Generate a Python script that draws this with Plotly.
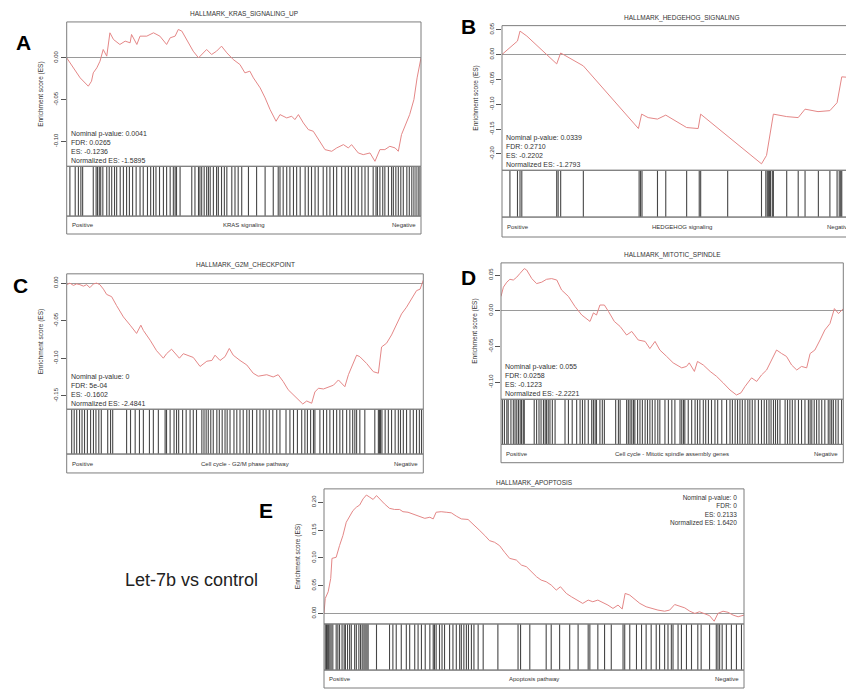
import plotly.graph_objects as go

# ---------------- DATA ----------------
# Panel A : HALLMARK_KRAS_SIGNALING_UP  (x = position in ranked list, %)
a_rank = [0,1.9,3.8,6.1,7.0,7.5,8.5,9.4,10.3,11.3,12.2,13.2,15.0,16.5,17.9,18.3,19.8,20.7,22.6,24.5,
          26.3,28.2,29.2,30.6,31.5,32.5,33.9,35.7,37.2,38.1,39.5,40.9,42.3,43.7,45.2,47.0,48.9,50.3,51.7,52.7,
          54.6,56.0,57.4,59.1,60.2,62.1,63.5,64.4,65.4,66.8,68.2,69.6,71.0,72.9,74.8,76.2,78.1,79.5,80.4,82.3,
          83.7,85.6,87.0,88.4,89.8,91.2,92.7,93.6,94.5,95.9,96.8,98.0,98.9,100]
a_es = [0,-0.012,-0.024,-0.034,-0.028,-0.018,-0.012,-0.004,0.010,0.002,0.030,0.022,0.016,0.020,0.018,0.028,0.016,0.026,0.026,0.030,
        0.026,0.016,0.024,0.026,0.034,0.032,0.022,0.008,0.0,0.004,0.010,0.004,0.008,0.014,0.006,-0.002,-0.008,-0.018,-0.016,-0.024,
        -0.036,-0.048,-0.062,-0.076,-0.068,-0.072,-0.070,-0.074,-0.068,-0.078,-0.086,-0.088,-0.098,-0.110,-0.112,-0.108,-0.104,-0.108,-0.104,-0.114,
        -0.116,-0.114,-0.124,-0.110,-0.110,-0.106,-0.108,-0.112,-0.092,-0.078,-0.068,-0.050,-0.024,0.0]
a_hits = [0.9,2.4,3.3,4.0,4.5,7.5,8.3,8.7,9.2,9.6,10.2,11.3,12.0,12.7,13.5,14.1,15.1,16.0,16.9,17.7,18.6,19.6,20.7,21.6,
          22.8,23.7,24.5,25.2,26.2,27.3,28.2,29.2,30.1,30.6,31.0,32.0,35.3,36.2,37.2,37.6,38.1,38.8,39.5,40.0,40.5,41.4,
          42.3,42.8,43.7,44.5,45.2,46.6,47.5,48.4,49.4,51.3,53.6,56.0,58.3,59.7,60.2,61.1,62.1,63.0,64.0,64.9,65.9,67.3,
          68.2,69.1,70.1,71.0,72.4,73.4,74.3,75.3,76.2,77.6,78.6,79.5,80.4,81.4,82.3,83.3,84.2,85.1,86.5,87.3,87.7,88.4,
          89.2,89.8,90.8,91.7,92.2,92.9,93.6,94.3,95.0,96.0,96.7,97.4,98.0,98.6,99.2,99.7]
a_ticks = [0.0, -0.05, -0.10]
a_stats = ["Nominal p-value: 0.0041", "FDR: 0.0265", "ES: -0.1236", "Normalized ES: -1.5895"]

# Panel B : HALLMARK_HEDGEHOG_SIGNALING
b_rank = [0,2.2,4.3,5.0,6.9,15.2,16.3,22.6,37.9,38.8,40.6,43.2,45.5,51.3,54.5,55.2,72.1,73.5,74.4,75.4,
          79.1,82.3,84.2,87.8,91.1,93.1,94.4,96.9,98.1]
b_es = [0,0.013,0.027,0.047,0.037,-0.019,0.003,-0.023,-0.149,-0.120,-0.127,-0.130,-0.122,-0.147,-0.149,-0.120,-0.220,-0.203,-0.163,-0.120,
        -0.125,-0.127,-0.110,-0.115,-0.113,-0.097,-0.045,-0.047,-0.047]
b_hits = [2.2,4.3,5.0,5.5,15.2,15.6,16.3,22.6,38.1,38.5,38.9,43.2,45.5,51.3,54.8,55.2,62.7,72.1,73.3,73.7,74.0,
          74.3,74.6,75.1,75.4,79.1,82.3,84.2,87.9,91.1,93.1,93.7,94.1,94.4,96.9]
b_ticks = [0.05, 0.0, -0.05, -0.10, -0.15, -0.20]
b_stats = ["Nominal p-value: 0.0339", "FDR: 0.2710", "ES: -0.2202", "Normalized ES: -1.2793"]

# Panel C : HALLMARK_G2M_CHECKPOINT
c_rank = [0,0.9,1.9,2.8,3.7,4.7,5.6,6.5,7.5,8.4,9.3,10.3,11.2,12.6,14.0,15.9,17.8,19.6,20.8,21.5,
          23.4,25.2,27.1,28.0,29.4,30.4,31.6,32.7,34.1,35.5,37.4,39.3,40.7,41.6,43.0,44.4,45.6,46.7,48.6,50.5,
          52.3,53.7,56.1,57.9,59.3,60.7,62.1,63.6,64.9,66.2,67.3,68.7,69.6,70.6,72.0,73.4,74.8,76.2,77.1,78.0,
          79.0,80.4,81.3,82.2,84.1,86.0,87.4,88.3,89.7,91.1,92.5,93.9,95.3,96.7,98.1,99.1,100]
c_es = [-0.002,0,-0.003,-0.001,-0.002,-0.004,-0.002,-0.006,-0.001,0,-0.002,-0.008,-0.015,-0.018,-0.030,-0.045,-0.056,-0.067,-0.056,-0.063,
        -0.076,-0.090,-0.100,-0.094,-0.088,-0.093,-0.100,-0.094,-0.096,-0.099,-0.111,-0.104,-0.103,-0.096,-0.103,-0.098,-0.087,-0.096,-0.103,-0.109,
        -0.120,-0.124,-0.122,-0.125,-0.122,-0.131,-0.142,-0.149,-0.156,-0.161,-0.157,-0.160,-0.145,-0.140,-0.141,-0.139,-0.136,-0.129,-0.133,-0.138,
        -0.122,-0.107,-0.096,-0.098,-0.107,-0.118,-0.120,-0.085,-0.080,-0.069,-0.054,-0.041,-0.032,-0.021,-0.010,-0.008,0.004]
c_hits = [1.4,2.1,2.8,3.6,4.3,5.0,5.8,6.7,7.5,8.2,9.0,9.7,11.5,12.3,12.9,16.8,17.9,19.2,20.4,21.5,23.2,24.3,25.7,
          27.6,28.0,29.0,30.1,30.8,31.4,32.5,33.5,34.6,35.5,36.4,37.9,38.5,39.1,39.7,40.4,41.1,42.1,42.8,43.6,44.4,
          45.0,45.8,46.9,47.7,48.6,49.5,50.5,51.2,52.1,53.3,54.2,55.1,55.9,56.8,57.8,58.9,59.8,61.5,62.6,63.6,64.7,
          65.9,66.8,67.5,68.4,69.2,69.6,71.0,72.0,72.9,73.8,74.8,75.7,76.6,77.4,78.5,79.4,80.2,80.8,81.3,82.2,83.6,
          86.4,87.4,87.7,88.0,88.4,89.3,90.2,91.1,92.1,93.0,93.6,94.4,95.3,96.3,97.2,98.1,98.9,99.5]
c_ticks = [0.0, -0.05, -0.10, -0.15]
c_stats = ["Nominal p-value: 0", "FDR: 5e-04", "ES: -0.1602", "Normalized ES: -2.4841"]

# Panel D : HALLMARK_MITOTIC_SPINDLE
d_rank = [0,0.7,1.7,2.6,3.6,4.6,5.5,6.8,7.5,9.0,10.4,11.9,13.3,14.8,16.3,17.7,19.7,21.6,23.6,25.0,
          26.0,27.0,27.9,28.9,30.2,31.4,33.1,34.8,36.7,38.2,40.1,42.1,43.5,45.0,46.4,48.4,50.3,52.8,54.2,55.0,
          56.5,57.4,59.1,61.1,63.0,64.9,66.9,68.8,70.1,71.3,73.2,74.7,76.1,77.6,79.1,80.5,82.0,83.4,84.9,86.4,
          87.8,89.3,90.3,91.7,93.2,94.6,96.1,97.4,98.6,100]
d_es = [0.020,0.033,0.040,0.044,0.043,0.047,0.052,0.059,0.057,0.045,0.038,0.040,0.044,0.045,0.043,0.029,0.020,0.006,-0.006,-0.011,
        -0.015,-0.003,-0.006,0.008,0.008,-0.001,-0.015,-0.022,-0.034,-0.029,-0.041,-0.043,-0.053,-0.043,-0.055,-0.064,-0.073,-0.080,-0.078,-0.073,
        -0.085,-0.071,-0.076,-0.085,-0.092,-0.101,-0.111,-0.118,-0.115,-0.106,-0.094,-0.099,-0.090,-0.083,-0.069,-0.055,-0.060,-0.064,-0.076,-0.083,
        -0.078,-0.080,-0.060,-0.055,-0.041,-0.027,-0.018,0.003,-0.004,0.003]
d_hits = [0.4,1.0,1.7,2.1,2.9,3.6,4.1,4.6,5.1,5.6,6.0,6.5,6.8,9.7,10.4,11.1,11.7,12.4,12.9,13.3,13.8,14.3,15.0,15.8,
          18.7,19.7,20.8,22.1,23.1,23.8,24.5,25.5,26.5,27.0,27.5,27.9,28.9,29.6,30.2,33.5,34.3,34.8,36.7,37.2,37.7,
          38.2,38.7,39.1,39.9,40.6,41.3,42.1,42.8,43.5,44.2,45.0,45.8,46.4,47.9,48.9,49.9,50.8,52.3,52.8,53.3,53.7,
          54.7,55.7,56.7,57.4,58.1,59.1,59.8,60.6,61.5,62.5,63.3,64.5,65.9,66.9,67.6,68.4,69.1,69.8,70.5,71.3,72.1,
          72.7,73.4,74.2,75.2,76.1,76.9,77.6,78.3,78.9,79.6,80.2,80.8,81.5,83.0,83.7,84.4,85.1,85.9,86.9,87.8,88.8,
          89.8,90.3,90.8,91.5,92.2,92.9,93.7,94.6,95.6,96.1,96.6,97.1,97.8,98.5,99.5]
d_ticks = [0.05, 0.0, -0.05, -0.10]
d_stats = ["Nominal p-value: 0.055", "FDR: 0.0258", "ES: -0.1223", "Normalized ES: -2.2221"]

# Panel E : HALLMARK_APOPTOSIS
e_rank = [0,0.3,1.0,1.6,1.9,2.9,3.7,4.5,5.3,6.1,6.9,7.7,8.5,9.3,10.1,10.9,11.7,12.5,13.3,14.4,
          15.6,16.8,18.0,18.8,20.0,21.2,22.4,24.0,25.2,26.0,26.7,27.9,29.1,30.3,31.5,32.7,34.3,35.5,37.1,38.3,
          39.4,40.6,41.8,43.0,44.2,45.8,47.0,48.2,49.4,50.6,51.7,52.9,54.1,55.3,56.3,57.7,58.9,60.4,61.6,62.9,
          64.0,65.2,66.4,67.6,68.8,70.0,71.0,71.7,72.8,73.9,75.2,76.7,77.9,79.5,81.1,82.3,83.5,84.7,85.9,87.1,
          88.3,89.4,90.6,91.8,92.9,93.8,95.0,96.2,97.4,98.6,100]
e_es = [0.0,0.027,0.039,0.063,0.099,0.101,0.122,0.140,0.164,0.176,0.185,0.191,0.195,0.206,0.213,0.209,0.205,0.212,0.205,0.197,
        0.189,0.187,0.187,0.183,0.182,0.179,0.176,0.171,0.173,0.170,0.182,0.183,0.182,0.181,0.175,0.170,0.169,0.161,0.149,0.140,
        0.131,0.128,0.122,0.110,0.099,0.096,0.087,0.084,0.075,0.066,0.060,0.057,0.051,0.042,0.048,0.036,0.030,0.024,0.018,0.024,
        0.021,0.024,0.020,0.015,0.009,0.015,0.008,0.036,0.033,0.026,0.018,0.012,0.009,0.006,0.004,0.006,0.016,0.013,0.010,0.004,
        0.0,0.003,0.0,-0.004,-0.014,0.0,0.004,0.002,-0.003,-0.006,-0.003]
e_hits = [0.3,0.6,0.8,1.1,1.4,1.7,2.1,2.9,3.3,3.7,4.3,4.8,5.1,5.6,6.1,6.5,7.3,7.7,8.3,8.7,9.1,9.5,9.8,10.2,10.5,
          12.5,15.6,16.4,17.2,18.4,19.6,20.4,21.6,22.4,23.2,24.1,25.2,26.0,26.3,26.7,27.5,28.1,28.7,29.9,30.7,31.5,
          32.3,32.7,33.3,33.9,34.4,35.1,35.7,36.7,37.9,41.4,46.2,46.8,49.0,52.9,54.1,56.1,58.5,60.5,62.9,63.3,65.2,
          66.8,68.4,71.2,71.6,72.8,74.4,75.6,76.7,77.9,79.1,79.9,81.1,81.9,82.7,83.1,84.3,85.1,86.3,87.5,89.0,89.8,
          91.8,93.4,93.8,94.2,94.8,95.8,97.0,98.2,99.4]
e_ticks = [0.20, 0.15, 0.10, 0.05, 0.0]
e_stats = ["Nominal p-value: 0", "FDR: 0", "ES: 0.2133", "Normalized ES: 1.6420"]

titles = ["HALLMARK_KRAS_SIGNALING_UP", "HALLMARK_HEDGEHOG_SIGNALING", "HALLMARK_G2M_CHECKPOINT",
          "HALLMARK_MITOTIC_SPINDLE", "HALLMARK_APOPTOSIS"]
pathways = ["KRAS signaling", "HEDGEHOG signaling", "Cell cycle - G2/M phase pathway",
            "Cell cycle - Mitotic spindle assembly genes", "Apoptosis pathway"]
letters = ["A", "B", "C", "D", "E"]

# ---------------- LAYOUT (window-pixel geometry of each panel) ----------------
OFF = 8                     # default body margin of the html page
W, H = 854 - OFF, 690 - OFF
def px(x): return (x - OFF) / W
def py(y): return 1 - (y - OFF) / H

geo = [
    dict(l=66.7, r=421.0, top=19.0, esb=164.0, barb=214.0, boxb=232.0, ylim=[-0.130, 0.043], xr=[0, 100],
         ty=11, let=(23, 40), stats_pos="bl", neg_r=None),
    dict(l=502.0, r=862.0, top=22.7, esb=168.0, barb=215.0, boxb=235.0, ylim=[-0.233, 0.058], xr=[0, 97.8],
         ty=15, let=(469, 24), stats_pos="bl", neg_r=853),
    dict(l=66.7, r=423.3, top=272.0, esb=408.0, barb=453.0, boxb=472.0, ylim=[-0.168, 0.0124], xr=[0, 100],
         ty=263, let=(20, 284), stats_pos="bl", neg_r=None),
    dict(l=501.0, r=843.3, top=261.0, esb=398.0, barb=443.3, boxb=461.7, ylim=[-0.124, 0.067], xr=[0, 100],
         ty=253, let=(469, 276), stats_pos="bl", neg_r=None),
    dict(l=324.0, r=744.0, top=488.0, esb=623.7, barb=670.0, boxb=688.0, ylim=[-0.019, 0.224], xr=[0, 100],
         ty=482, let=(266, 510), stats_pos="tr", neg_r=None),
]
ranks = [a_rank, b_rank, c_rank, d_rank, e_rank]
ess = [a_es, b_es, c_es, d_es, e_es]
hits = [a_hits, b_hits, c_hits, d_hits, e_hits]
ticks = [a_ticks, b_ticks, c_ticks, d_ticks, e_ticks]
stats = [a_stats, b_stats, c_stats, d_stats, e_stats]

FONT = "Arial, Liberation Sans, sans-serif"
ES_COLOR = "rgb(228,135,135)"
BAR_COLOR = "rgba(25,25,25,0.8)"
BOX_COLOR = "rgb(125,125,125)"
TXT = "#333"

fig = go.Figure()
layout = {}
shapes = []
annotations = []

for i in range(5):
    g = geo[i]
    n_es, n_bar = 2 * i + 1, 2 * i + 2
    xe = "x" if n_es == 1 else f"x{n_es}"
    ye = "y" if n_es == 1 else f"y{n_es}"
    xb, yb = f"x{n_bar}", f"y{n_bar}"
    xdom = [px(g["l"]), min(px(g["r"]), 1.0)]

    fig.add_trace(go.Scatter(x=ranks[i], y=ess[i], mode="lines",
                             line=dict(color=ES_COLOR, width=1), xaxis=xe, yaxis=ye,
                             hoverinfo="skip", showlegend=False))
    bx, by = [], []
    for h in hits[i]:
        bx += [h, h, None]
        by += [0, 1, None]
    fig.add_trace(go.Scatter(x=bx, y=by, mode="lines", line=dict(color=BAR_COLOR, width=1.1),
                             xaxis=xb, yaxis=yb, hoverinfo="skip", showlegend=False))

    layout["xaxis" if n_es == 1 else f"xaxis{n_es}"] = dict(
        domain=xdom, range=g["xr"], anchor=ye, visible=False, fixedrange=True)
    layout["yaxis" if n_es == 1 else f"yaxis{n_es}"] = dict(
        domain=[py(g["esb"]), py(g["top"])], range=g["ylim"], anchor=xe,
        tickmode="array", tickvals=ticks[i], ticktext=[f"{t:.2f}" for t in ticks[i]],
        tickangle=-90, ticks="outside", ticklen=5, tickcolor="#555", tickwidth=1,
        tickfont=dict(size=6, color=TXT, family=FONT),
        showline=False, showgrid=False, zeroline=True, zerolinecolor="#9a9a9a", zerolinewidth=1,
        title=dict(text="Enrichment score (ES)", font=dict(size=6.5, color=TXT, family=FONT), standoff=9),
        fixedrange=True)
    layout[f"xaxis{n_bar}"] = dict(domain=xdom, range=g["xr"], anchor=yb, visible=False, fixedrange=True)
    layout[f"yaxis{n_bar}"] = dict(domain=[py(g["barb"]), py(g["esb"])], range=[0, 1], anchor=xb,
                                   visible=False, fixedrange=True)

    # frames
    for (y0, y1) in [(g["top"], g["esb"]), (g["esb"], g["barb"]), (g["barb"], g["boxb"])]:
        shapes.append(dict(type="rect", xref="paper", yref="paper",
                           x0=px(g["l"]), x1=px(g["r"]), y0=py(y1), y1=py(y0),
                           line=dict(color=BOX_COLOR, width=1), fillcolor="rgba(0,0,0,0)", layer="above"))

    # title
    annotations.append(dict(text=titles[i], x=px((g["l"] + g["r"]) / 2), y=py(g["ty"]), xref="paper", yref="paper",
                            showarrow=False, xanchor="center", yanchor="middle",
                            font=dict(size=6.5, color=TXT, family=FONT)))
    # stats
    if g["stats_pos"] == "bl":
        annotations.append(dict(text="<br>".join(stats[i]), x=px(g["l"] + 2), y=py(g["esb"] - 0.5),
                                xref="paper", yref="paper", showarrow=False, xanchor="left", yanchor="bottom",
                                align="left", font=dict(size=7, color=TXT, family=FONT)))
    else:
        annotations.append(dict(text="<br>".join(stats[i]), x=px(g["r"] - 5), y=py(g["top"] + 3),
                                xref="paper", yref="paper", showarrow=False, xanchor="right", yanchor="top",
                                align="right", font=dict(size=6.5, color=TXT, family=FONT)))
    # label strip
    ym = py((g["barb"] + g["boxb"]) / 2)
    annotations.append(dict(text="Positive", x=px(g["l"] + 3), y=ym, xref="paper", yref="paper", showarrow=False,
                            xanchor="left", yanchor="middle", font=dict(size=6, color=TXT, family=FONT)))
    annotations.append(dict(text=pathways[i], x=px((g["l"] + g["r"]) / 2), y=ym, xref="paper", yref="paper",
                            showarrow=False, xanchor="center", yanchor="middle",
                            font=dict(size=6, color=TXT, family=FONT)))
    neg_x = g["neg_r"] if g["neg_r"] else g["r"] - 3
    annotations.append(dict(text="Negative", x=px(neg_x), y=ym, xref="paper", yref="paper", showarrow=False,
                            xanchor="right", yanchor="middle", font=dict(size=6, color=TXT, family=FONT)))
    # panel letter
    annotations.append(dict(text=f"<b>{letters[i]}</b>", x=px(g["let"][0]), y=py(g["let"][1]), xref="paper",
                            yref="paper", showarrow=False, xanchor="center", yanchor="middle",
                            font=dict(size=21, color="black", family=FONT)))

annotations.append(dict(text="Let-7b vs control", x=px(191), y=py(580), xref="paper", yref="paper",
                        showarrow=False, xanchor="center", yanchor="middle",
                        font=dict(size=18, color="#222", family=FONT)))

fig.update_layout(width=W, height=H, margin=dict(l=0, r=0, t=0, b=0),
                  paper_bgcolor="white", plot_bgcolor="white", showlegend=False,
                  shapes=shapes, annotations=annotations, **layout)

fig.write_html("out.html")
